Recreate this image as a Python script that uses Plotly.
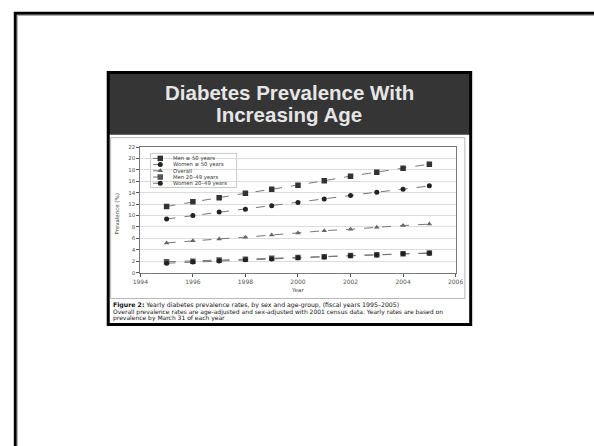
import plotly.graph_objects as go

# ---- data: yearly diabetes prevalence (%) by sex and age group ----
years = [1995, 1996, 1997, 1998, 1999, 2000, 2001, 2002, 2003, 2004, 2005]
men_50_plus = [11.6, 12.4, 13.1, 13.9, 14.6, 15.3, 16.1, 16.9, 17.6, 18.3, 19.0]
women_50_plus = [9.4, 10.0, 10.6, 11.1, 11.7, 12.3, 12.9, 13.5, 14.1, 14.6, 15.2]
overall = [5.2, 5.6, 5.9, 6.2, 6.6, 6.95, 7.35, 7.6, 7.95, 8.25, 8.5]
men_20_49 = [1.9, 2.0, 2.2, 2.35, 2.5, 2.65, 2.8, 3.0, 3.15, 3.3, 3.45]
women_20_49 = [1.65, 1.85, 2.05, 2.25, 2.4, 2.6, 2.75, 2.95, 3.1, 3.3, 3.4]

series_names = ["Men \u2265 50 years", "Women \u2265 50 years", "Overall",
                "Men 20\u201349 years", "Women 20\u201349 years"]
series_values = [men_50_plus, women_50_plus, overall, men_20_49, women_20_49]

x_ticks = [1994, 1996, 1998, 2000, 2002, 2004, 2006]
y_ticks = [0, 2, 4, 6, 8, 10, 12, 14, 16, 18, 20, 22]

W, H = 594, 446
TITLE_FONT = "Liberation Sans"
SMALL_FONT = "DejaVu Sans"


def fx(px):
    return px / W


def fy(py):
    return 1 - py / H


styles = [
    dict(symbol="square", size=5.5, color="#333333"),
    dict(symbol="circle", size=5, color="#222222"),
    dict(symbol="triangle-up", size=5, color="#666666"),
    dict(symbol="square", size=5.5, color="#555555"),
    dict(symbol="circle", size=5, color="#222222"),
]

fig = go.Figure()

for name, vals, st in zip(series_names, series_values, styles):
    fig.add_trace(go.Scatter(
        x=years, y=vals, name=name, mode="lines+markers",
        line=dict(color="#777777", width=1, dash="dash"),
        marker=dict(symbol=st["symbol"], size=st["size"], color=st["color"]),
        xaxis="x", yaxis="y", showlegend=False,
    ))

# hand-built legend drawn on a pixel-space overlay
leg_x0, leg_x1 = 149, 164
leg_rows = [157.5, 163.8, 170.1, 176.4, 182.7]
for name, st, ry in zip(series_names, styles, leg_rows):
    fig.add_trace(go.Scatter(
        x=[leg_x0, (leg_x0 + leg_x1) / 2, leg_x1], y=[ry, ry, ry],
        mode="lines", line=dict(color="#777777", width=1, dash="dash"),
        xaxis="x2", yaxis="y2", showlegend=False, hoverinfo="skip",
    ))
    fig.add_trace(go.Scatter(
        x=[(leg_x0 + leg_x1) / 2], y=[ry], mode="markers",
        marker=dict(symbol=st["symbol"], size=st["size"], color=st["color"]),
        xaxis="x2", yaxis="y2", showlegend=False, hoverinfo="skip",
    ))

shapes = [
    # slide border
    dict(type="rect", xref="paper", yref="paper", x0=fx(7.5), x1=fx(W + 10),
         y0=fy(10.5), y1=fy(H + 10), line=dict(color="#000000", width=3)),
    dict(type="rect", xref="paper", yref="paper", x0=fx(9.5), x1=fx(W + 10),
         y0=fy(12.5), y1=fy(H + 10), line=dict(color="#9a9a9a", width=1)),
    # dark title band
    dict(type="rect", xref="paper", yref="paper", x0=fx(103), x1=fx(475.5),
         y0=fy(70.5), y1=fy(133.5), fillcolor="#353535", line=dict(width=0)),
    # figure box
    dict(type="rect", xref="paper", yref="paper", x0=fx(103), x1=fx(475.5),
         y0=fy(70.5), y1=fy(326), line=dict(color="#000000", width=3)),
    # inner chart frame
    dict(type="rect", xref="paper", yref="paper", x0=fx(105.5), x1=fx(469.5),
         y0=fy(136.5), y1=fy(299.5), line=dict(color="#b8b8b8", width=1)),
    # legend box
    dict(type="rect", xref="paper", yref="paper", x0=fx(146.5), x1=fx(235),
         y0=fy(152.5), y1=fy(187), fillcolor="#ffffff",
         line=dict(color="#c8c8c8", width=1), layer="below"),
]

annotations = [
    dict(text="<b>Diabetes Prevalence With</b>", x=fx(289), y=fy(91),
         xref="paper", yref="paper", showarrow=False, xanchor="center", yanchor="middle",
         font=dict(family=TITLE_FONT, size=20.5, color="#e6e6e6")),
    dict(text="<b>Increasing Age</b>", x=fx(289), y=fy(113),
         xref="paper", yref="paper", showarrow=False, xanchor="center", yanchor="middle",
         font=dict(family=TITLE_FONT, size=20.5, color="#e6e6e6")),
    dict(text="Prevalence (%)", x=fx(112.5), y=fy(214), textangle=-90,
         xref="paper", yref="paper", showarrow=False, xanchor="center", yanchor="middle",
         font=dict(family=SMALL_FONT, size=5.5, color="#444444")),
    dict(text="Year", x=fx(298), y=fy(290.5),
         xref="paper", yref="paper", showarrow=False, xanchor="center", yanchor="middle",
         font=dict(family=SMALL_FONT, size=5.5, color="#444444")),
    dict(text="<b>Figure 2:</b> Yearly diabetes prevalence rates, by sex and age-group, (fiscal years 1995\u20132005)",
         x=fx(106), y=fy(305.7), xref="paper", yref="paper", showarrow=False,
         xanchor="left", yanchor="middle", font=dict(family=SMALL_FONT, size=6.2, color="#111111")),
    dict(text="Overall prevalence rates are age-adjusted and sex-adjusted with 2001 census data. Yearly rates are based on",
         x=fx(106), y=fy(312.8), xref="paper", yref="paper", showarrow=False,
         xanchor="left", yanchor="middle", font=dict(family=SMALL_FONT, size=6.0, color="#111111")),
    dict(text="prevalence by March 31 of each year",
         x=fx(106), y=fy(319.8), xref="paper", yref="paper", showarrow=False,
         xanchor="left", yanchor="middle", font=dict(family=SMALL_FONT, size=6.0, color="#111111")),
]
for name, ry in zip(series_names, leg_rows):
    annotations.append(dict(
        text=name, x=fx(167), y=fy(ry), xref="paper", yref="paper", showarrow=False,
        xanchor="left", yanchor="middle", font=dict(family=SMALL_FONT, size=5.3, color="#333333")))

fig.update_layout(
    width=W, height=H,
    margin=dict(l=0, r=0, t=0, b=0),
    paper_bgcolor="#ffffff",
    plot_bgcolor="rgba(0,0,0,0)",
    showlegend=False,
    shapes=shapes,
    annotations=annotations,
    xaxis=dict(
        domain=[fx(136), fx(460)], range=[1994, 2006],
        tickvals=x_ticks, ticktext=[str(t) for t in x_ticks],
        ticks="outside", ticklen=3, tickcolor="#555555", tickwidth=1,
        showline=True, linecolor="#7a7a7a", linewidth=1, mirror=True,
        showgrid=False, zeroline=False,
        tickfont=dict(family=SMALL_FONT, size=6, color="#555555"),
        anchor="y",
    ),
    yaxis=dict(
        domain=[fy(273.3), fy(146)], range=[0, 22],
        tickvals=y_ticks, ticks="outside", ticklen=3, tickcolor="#555555", tickwidth=1,
        showline=True, linecolor="#7a7a7a", linewidth=1, mirror=True,
        showgrid=True, gridcolor="#dcdcdc", gridwidth=1, zeroline=False,
        tickfont=dict(family=SMALL_FONT, size=5.5, color="#555555"),
        anchor="x",
    ),
    xaxis2=dict(domain=[0, 1], range=[0, W], visible=False, fixedrange=True, anchor="y2"),
    yaxis2=dict(domain=[0, 1], range=[H, 0], visible=False, fixedrange=True, anchor="x2"),
)

fig.write_html("out.html")
